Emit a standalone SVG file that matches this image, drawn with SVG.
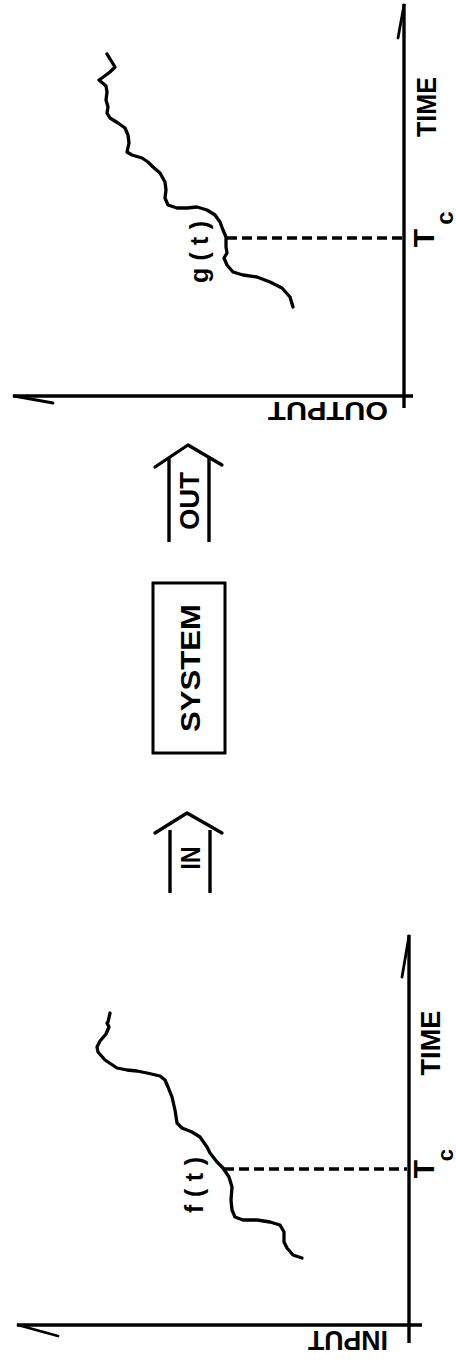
<svg xmlns="http://www.w3.org/2000/svg" width="456" height="1362" viewBox="0 0 456 1362">
<style>
.lbl{font-family:"Liberation Sans",Arial,sans-serif;font-weight:bold;fill:#000;text-anchor:middle}
.ax{stroke:#000;stroke-width:3.4;fill:none;stroke-linecap:butt}
.barb{stroke:#000;stroke-width:2.8;fill:none;stroke-linecap:round}
.crv{stroke:#000;stroke-width:3.3;fill:none;stroke-linejoin:round;stroke-linecap:round}
.dash{stroke:#000;stroke-width:3.3;fill:none;stroke-dasharray:10 5}
.box{stroke:#000;stroke-width:3;fill:none}
</style>
<rect width="456" height="1362" fill="#fff"/>

<g id="output-graph">
  <line class="ax" x1="404" y1="408" x2="404" y2="4"/>
  <line class="barb" x1="404" y1="5" x2="398" y2="38"/>
  <line class="ax" x1="13" y1="396" x2="413" y2="396"/>
  <line class="barb" x1="14" y1="396" x2="53" y2="403"/>
  <polyline class="crv" points="107,54 115,67 110,72 102,78 99,80 106,86 107,92 106,100 108,107 107,113 110,118 118,123 125,128 128,135 129,143 127,152 132,155 142,158 148,162 153,167 160,173 165,182 166,190 165,198 168,205 177,208 187,208 197,207 207,210 215,215 220,222 223,230 226,237 226,247 227,253 224,258 227,265 233,272 243,275 257,277 270,282 282,288 290,297 293,307"/>
  <line class="dash" x1="227" y1="238" x2="402" y2="238"/>
  <text class="lbl" font-size="28" textLength="60" lengthAdjust="spacingAndGlyphs" transform="translate(436,107) rotate(-90)">TIME</text>
  <text class="lbl" font-size="30" transform="translate(434,238) rotate(-90)">T</text>
  <text class="lbl" font-size="24" transform="translate(453,218) rotate(-90)">c</text>
  <text class="lbl" font-size="25" textLength="62" transform="translate(208,252) rotate(-90)">g(t)</text>
  <text class="lbl" font-size="26" textLength="120" lengthAdjust="spacingAndGlyphs" transform="translate(328,402) rotate(180)">OUTPUT</text>
</g>

<g id="out-arrow">
  <line class="ax" x1="169" y1="458" x2="169" y2="542"/>
  <line class="ax" x1="209" y1="458" x2="209" y2="542"/>
  <polyline class="crv" points="155,467 188,445 222,465"/>
  <text class="lbl" font-size="28" textLength="58" lengthAdjust="spacingAndGlyphs" transform="translate(199,501) rotate(-90)">OUT</text>
</g>

<g id="system">
  <rect class="box" x="153" y="583" width="72" height="170"/>
  <text class="lbl" font-size="28" textLength="128" lengthAdjust="spacingAndGlyphs" transform="translate(200,668) rotate(-90)">SYSTEM</text>
</g>

<g id="in-arrow">
  <line class="ax" x1="170" y1="830" x2="170" y2="893"/>
  <line class="ax" x1="210" y1="830" x2="210" y2="893"/>
  <polyline class="crv" points="155,833 187,813 222,833"/>
  <text class="lbl" font-size="28" textLength="23" lengthAdjust="spacingAndGlyphs" transform="translate(200,858) rotate(-90)">IN</text>
</g>

<g id="input-graph">
  <line class="ax" x1="409" y1="1343" x2="409" y2="935"/>
  <line class="barb" x1="409" y1="936" x2="402" y2="977"/>
  <line class="ax" x1="17" y1="1325" x2="422" y2="1325"/>
  <line class="barb" x1="18" y1="1325" x2="58" y2="1336"/>
  <polyline class="crv" points="110,1013 108,1022 107,1023 109,1027 106,1034 100,1041 97,1047 98,1052 105,1060 117,1068 127,1070 137,1071 147,1073 160,1076 165,1080 168,1087 172,1097 175,1110 177,1123 182,1128 192,1132 200,1137 207,1147 210,1153 217,1162 223,1168 229,1177 232,1187 231,1200 232,1210 235,1217 243,1220 257,1220 270,1222 280,1225 284,1232 284,1242 287,1248 293,1255 302,1258"/>
  <line class="dash" x1="224" y1="1169" x2="407" y2="1169"/>
  <text class="lbl" font-size="28" textLength="65" lengthAdjust="spacingAndGlyphs" transform="translate(440,1043) rotate(-90)">TIME</text>
  <text class="lbl" font-size="30" transform="translate(434,1169) rotate(-90)">T</text>
  <text class="lbl" font-size="22" transform="translate(453,1155) rotate(-90)">c</text>
  <text class="lbl" font-size="25" textLength="56" transform="translate(203,1185) rotate(-90)">f(t)</text>
  <text class="lbl" font-size="28" textLength="80" lengthAdjust="spacingAndGlyphs" transform="translate(348,1331) rotate(180)">INPUT</text>
</g>
</svg>
